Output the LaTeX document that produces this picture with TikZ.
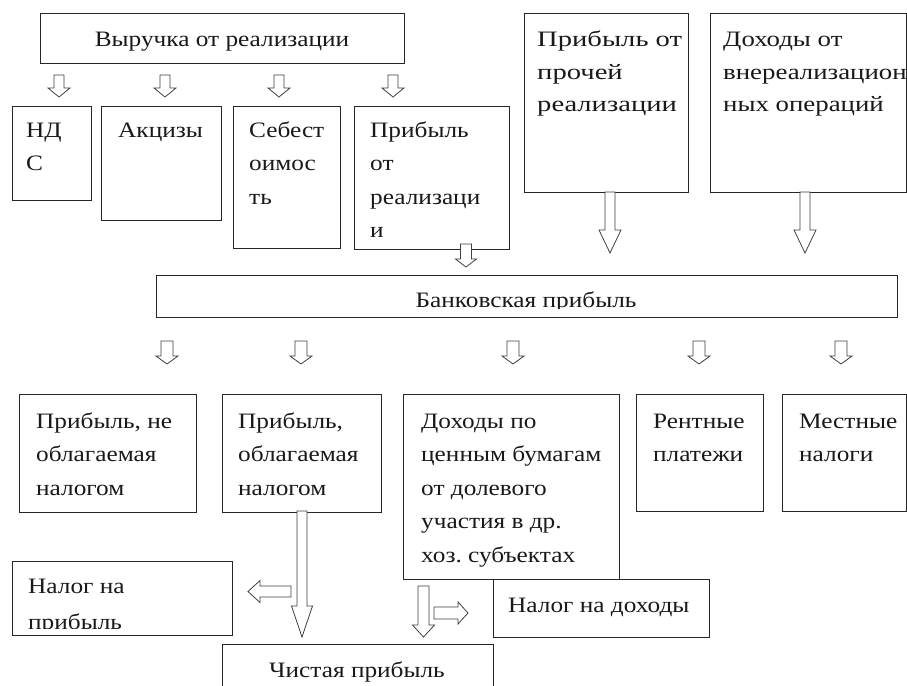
\documentclass[tikz,border=0pt]{standalone}
\usepackage{fontspec}
\setmainfont[FakeStretch=1.15]{Liberation Serif}
\newfontfamily\widefont[FakeStretch=1.3]{Liberation Serif}
\newfontfamily\midfont[FakeStretch=1.22]{Liberation Serif}
\frenchspacing
\newcommand\tlines[1]{\parbox[t]{300pt}{\raggedright #1}}
\newcommand\blkdown[6]{% cx, ytop, yhead, ytip, shaft half, head half
  \draw[blkarr] ({#1-#5},#2) -- ({#1+#5},#2) -- ({#1+#5},#3) -- ({#1+#6},#3)
    -- (#1,#4) -- ({#1-#6},#3) -- ({#1-#5},#3) -- cycle;}
\newcommand\blkhoriz[6]{% cy, xtail, xhead, xtip, shaft half, head half
  \draw[blkarr] (#2,{#1-#5}) -- (#3,{#1-#5}) -- (#3,{#1-#6}) -- (#4,#1)
    -- (#3,{#1+#6}) -- (#3,{#1+#5}) -- (#2,{#1+#5}) -- cycle;}
\tikzset{
  bx/.style={draw=black!85, line width=1pt, inner sep=0pt, anchor=north west},
  tx/.style={inner sep=0pt, anchor=base west, text=black!90,
    font=\fontsize{22}{33.5}\selectfont},
  txw/.style={tx, font=\widefont\fontsize{22}{32.5}\selectfont},
  txm/.style={tx, font=\midfont\fontsize{22}{32.5}\selectfont},
  txc/.style={inner sep=0pt, anchor=base, text=black!90,
    font=\fontsize{22}{33.5}\selectfont},
  blkarr/.style={draw=black!75, line width=0.8pt, fill=white, line join=miter}
}
\newcommand\boxat[5]{% name, x1, y1, x2, y2
  \node[bx, minimum width={(#4-#2)*1pt}, minimum height={(#5-#3)*1pt}] (#1) at (#2,#3) {};}
\begin{document}
\begin{tikzpicture}[x=1pt, y=-1pt]
\useasboundingbox (0,0) rectangle (907,685);
\fill[white] (0,0) rectangle (907,685);

% boxes
\boxat{vyr}{40}{13}{404}{63}
\boxat{nds}{12}{106}{91}{200}
\boxat{akc}{101}{106}{221}{220}
\boxat{seb}{233}{106}{340}{248}
\boxat{prr}{354}{106}{509}{249}
\boxat{ppr}{524}{13}{688}{192}
\boxat{dvn}{710}{13}{906}{192}
\boxat{bank}{156}{275}{897}{317}
\boxat{pno}{19}{394}{196}{512}
\boxat{pob}{222}{394}{381}{512}
\boxat{dcb}{403}{394}{619}{579}
\boxat{rent}{636}{394}{763}{511}
\boxat{mest}{782}{394}{906}{511}
\boxat{nnp}{12}{561}{232}{635}
\boxat{nnd}{493}{579}{709}{637}
\boxat{chp}{222}{644}{493}{688}

% texts
\node[txc] (tvyr) at (222,47) {Выручка от реализации};
\node[tx] (tnds) at (26,137) {\tlines{НД\\С}};
\node[tx] (takc) at (118,137) {\tlines{Акцизы}};
\node[tx] (tseb) at (249,137) {\tlines{Себест\\оимос\\ть}};
\node[tx] (tprr) at (370,137) {\tlines{Прибыль\\от\\реализаци\\и}};
\node[txw] (tppr) at (537,47) {\tlines{Прибыль от\\прочей\\реализации}};
\node[txm] (tdvn) at (723,47) {\tlines{Доходы от\\внереализацион\\ных операций}};
\begin{scope}
  \clip (157,276) rectangle (896,308.5);
  \node[txc] (tbank) at (526,307) {Банковская прибыль};
\end{scope}
\node[tx] (tpno) at (36,428) {\tlines{Прибыль, не\\облагаемая\\налогом}};
\node[tx] (tpob) at (238,428) {\tlines{Прибыль,\\облагаемая\\налогом}};
\node[tx] (tdcb) at (421,428) {\tlines{Доходы по\\ценным бумагам\\от долевого\\участия в др.\\хоз. субъектах}};
\node[tx] (trent) at (653,428) {\tlines{Рентные\\платежи}};
\node[tx] (tmest) at (799,428) {\tlines{Местные\\налоги}};
\begin{scope}
  \clip (13,562) rectangle (231,628);
  \node[tx, font=\fontsize{22}{36}\selectfont] (tnnp) at (28,593) {\tlines{Налог на\\прибыль}};
\end{scope}
\node[tx] (tnnd) at (508,612) {Налог на доходы};
\node[txc] (tchp) at (357,677) {Чистая прибыль};

% arrows from revenue
\blkdown{59}{75}{88}{97}{5}{11}
\blkdown{165}{75}{88}{97}{5}{11}
\blkdown{279}{75}{88}{97}{5}{11}
\blkdown{393}{75}{88}{97}{5}{11}
% arrows into bank profit
\blkdown{466}{244}{259}{267}{5.5}{10.5}
\blkdown{610}{192}{230}{253}{5}{11}
\blkdown{805}{192}{230}{253}{5}{11}
% arrows from bank profit
\blkdown{167}{341}{356}{364}{6}{11}
\blkdown{301}{341}{356}{364}{6}{11}
\blkdown{513}{341}{356}{364}{6}{11}
\blkdown{699}{341}{356}{364}{6}{11}
\blkdown{841}{341}{356}{364}{6}{11}
% lower arrows
\blkdown{302}{511}{606}{637}{5}{10.5}
\blkhoriz{591.5}{291}{260}{248}{5.5}{11}
\blkdown{423.5}{586}{625}{637}{5.5}{11}
\blkhoriz{613}{434}{458}{468}{6}{11}
\end{tikzpicture}
\end{document}
